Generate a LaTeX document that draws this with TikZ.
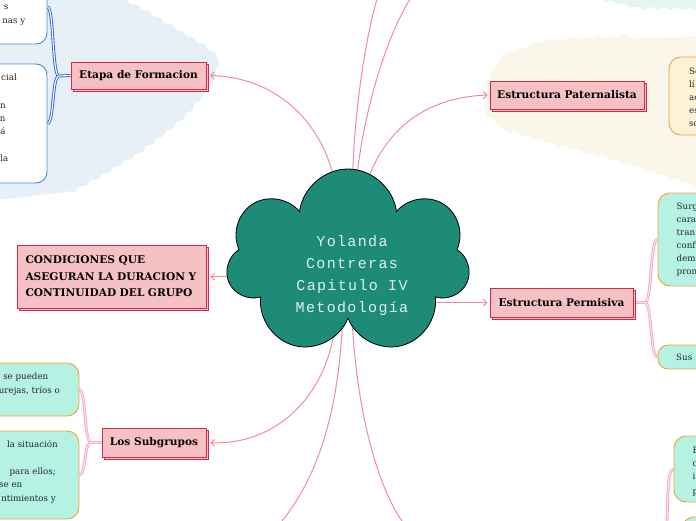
\documentclass[tikz,border=0pt]{standalone}
\usepackage{fontspec}
\setmainfont{DejaVu Serif}
\newfontfamily\monof[LetterSpace=9]{Liberation Mono}
\usetikzlibrary{shapes.symbols,shadows,arrows.meta,decorations.pathmorphing}
\definecolor{pinkfill}{HTML}{F5C1C4}
\definecolor{crim}{HTML}{D22A48}
\definecolor{conn}{HTML}{F28C9C}
\definecolor{tealc}{HTML}{1E8A78}
\definecolor{mint}{HTML}{B6F2E1}
\definecolor{orng}{HTML}{F2A23C}
\definecolor{peach}{HTML}{FFF1D6}
\definecolor{lblue}{HTML}{3A8EDB}
\definecolor{bluebr}{HTML}{2D62F0}
\definecolor{bgblue}{HTML}{E8F0F7}
\definecolor{bgcream}{HTML}{FBF6EA}
\definecolor{bgmint}{HTML}{E3F6EF}
\definecolor{cloudtxt}{HTML}{DDF2EA}
\definecolor{brpink}{HTML}{F6A7B6}
\pgfdeclarelayer{back}
\pgfdeclarelayer{links}
\pgfsetlayers{back,links,main}
\tikzset{
  topic/.style={draw=crim, fill=pinkfill, line width=1pt, inner sep=0pt,
    font=\fontsize{10.6}{16.5}\selectfont\bfseries,
    copy shadow={shadow xshift=2.5pt, shadow yshift=-2.5pt}},
  leafb/.style={draw=lblue, fill=white, rounded corners=11pt, line width=0.9pt, inner sep=0pt},
  leafm/.style={draw=orng, fill=mint, rounded corners=12pt, line width=0.9pt, inner sep=0pt},
  leafp/.style={draw=orng, fill=peach, rounded corners=12pt, line width=0.9pt, inner sep=0pt},
  frag/.style={font=\fontsize{8.7}{13}\selectfont, inner sep=0pt, text=black!85},
  link/.style={draw=conn, line width=1pt},
  arr/.style={link, -{Straight Barb[length=3.5pt,width=7pt]}},
  bluebranch/.style={draw=bluebr, double=white, double distance=1.1pt, line width=0.9pt},
  pinkbranch/.style={draw=brpink, double=white!70!brpink, double distance=1.1pt, line width=0.85pt},
  wavy/.style={decoration={snake, amplitude=1.3pt, segment length=13pt}}
}
\begin{document}
\begin{tikzpicture}[x=1pt, y=-1pt]
\useasboundingbox (0,0) rectangle (696,520);
% backgrounds
\begin{pgfonlayer}{back}
\fill[bgblue] (-2,-2) -- (122,-2) decorate[wavy]{-- (145,10) -- (175,28) -- (200,43) -- (217,57) -- (210,83) -- (187,110) -- (160,133) -- (133,153) -- (100,173) -- (66,192)} -- (-2,200) -- cycle;
\fill[bgcream] (486,113) decorate[wavy]{-- (486,86) -- (503,57) -- (537,45) -- (570,41) -- (640,38)} -- (700,36) -- (700,187) decorate[wavy]{-- (640,168) -- (570,148) -- (537,140) -- (503,130) -- (486,113)} -- cycle;
\fill[bgmint] (598,-2) -- (700,-2) -- (700,9) decorate[wavy]{-- (640,8) -- (598,-2)} -- cycle;
\end{pgfonlayer}
% central cloud
\node[cloud, cloud puffs=7, cloud puff arc=165, cloud ignores aspect, shape border rotate=10,
  minimum width=244pt, minimum height=186pt, fill=tealc, draw=black, line width=0.8pt] (cl) at (348,262) {};
\node[text=cloudtxt, font=\monof\fontsize{15}{22}\selectfont, align=center, inner sep=0pt] (ct) at (352,276) {Yolanda\\Contreras\\Capitulo IV\\Metodología};
% topics
\node[topic, minimum width=135pt, minimum height=27pt] (etapa) at (138.5,75.5) {Etapa de Formacion};
\node[topic, minimum width=189pt, minimum height=63pt, text width=172pt, align=left] (cond) at (111.5,276.5) {CONDICIONES QUE\\ASEGURAN LA DURACION Y\\CONTINUIDAD DEL GRUPO};
\node[topic, minimum width=154pt, minimum height=28pt] (pat) at (567,95) {Estructura Paternalista};
\node[topic, minimum width=143pt, minimum height=29pt] (perm) at (561.5,302.5) {Estructura Permisiva};
\node[topic, minimum width=104pt, minimum height=29pt] (sub) at (154,442.5) {Los Subgrupos};
% leaves
\node[leafb, minimum width=77pt, minimum height=74pt] (la) at (8.5,7) {};
\node[leafb, minimum width=77pt, minimum height=119pt] (lb) at (8.5,123.5) {};
\node[leafm, minimum width=109pt, minimum height=53pt] (lc) at (24.5,389.5) {};
\node[leafm, minimum width=109pt, minimum height=88pt] (ld) at (24.5,475) {};
\node[leafp, minimum width=61pt, minimum height=78pt] (le) at (699.5,96) {};
\node[leafm, minimum width=72pt, minimum height=93pt] (lf) at (694,239.5) {};
\node[leafm, minimum width=72pt, minimum height=24pt, rounded corners=10pt] (lg) at (694,357) {};
\node[leafm, minimum width=56pt, minimum height=66pt] (lh) at (702,469) {};
\node[leafm, minimum width=48pt, minimum height=43pt] (li) at (706,538.5) {};
% leaf text fragments
\node[frag, anchor=base east] (ta1) at (8.5,9) {s};
\node[frag, anchor=base east] (ta2) at (25.5,23) {nas y};
\node[frag, anchor=base east] (tb1) at (17,80.5) {cial};
\node[frag, anchor=base east] (tb2) at (6,108) {n};
\node[frag, anchor=base east] (tb3) at (5.8,121) {n};
\node[frag, anchor=base east] (tb4) at (5.8,134.5) {á};
\node[frag, anchor=base east] (tb5) at (8.5,161) {la};
\node[frag, anchor=base east] (tc1) at (48.5,379.5) {se pueden};
\node[frag, anchor=base east] (tc2) at (60,393.5) {urejas, tríos o};
\node[frag, anchor=base east] (td1) at (58,447) {la situación};
\node[frag, anchor=base east] (td2) at (56,474.5) {para ellos;};
\node[frag, anchor=base east] (td3) at (22.5,487.5) {se en};
\node[frag, anchor=base east] (td4) at (56,501.5) {ntimientos y};
\node[frag, anchor=base west] (te1) at (689,74.5) {Se};
\node[frag, anchor=base west] (te2) at (689,87.5) {lí};
\node[frag, anchor=base west] (te3) at (689,100.5) {ac};
\node[frag, anchor=base west] (te4) at (689,113) {es};
\node[frag, anchor=base west] (te5) at (689,126) {so};
\node[frag, anchor=base west] (tf1) at (676.5,209) {Surg};
\node[frag, anchor=base west] (tf2) at (676.5,222) {cara};
\node[frag, anchor=base west] (tf3) at (676.5,235) {tran};
\node[frag, anchor=base west] (tf4) at (676.5,248) {conf};
\node[frag, anchor=base west] (tf5) at (676.5,261.5) {dem};
\node[frag, anchor=base west] (tf6) at (676.5,274.5) {pron};
\node[frag, anchor=base west] (tg1) at (676,360.5) {Sus};
\node[frag, anchor=base west] (th1) at (692.5,453) {E};
\node[frag, anchor=base west] (th2) at (692.5,466) {c};
\node[frag, anchor=base west] (th3) at (692.5,479) {i};
\node[frag, anchor=base west] (th4) at (692.5,494) {p};
% connectors
\coordinate (up1) at (377,-1);
\coordinate (up2) at (410,-1);
\coordinate (dn1) at (282,521);
\coordinate (dn2) at (402,521);
\coordinate (eb) at (59,76);
\coordinate (sb) at (91,442.5);
\coordinate (pb) at (645,302.5);
\coordinate (hb) at (667,522);
\begin{pgfonlayer}{links}
\draw[arr, shorten >=3.5pt] (cl.100) .. controls (318,120) and (275,77) .. (etapa.east);
\draw[link] (cl.87) .. controls (355,110) and (365,40) .. (up1);
\draw[link] (cl.84) .. controls (365,110) and (385,40) .. (up2);
\draw[arr, shorten >=2pt] (cl.76) .. controls (390,125) and (430,97) .. (pat.west);
\draw[arr, shorten >=4pt] (cl.center |- cond.east) -- (cond.east);
\draw[arr, shorten >=2pt] (cl.center |- perm.west) -- (perm.west);
\draw[arr, shorten >=4pt] (cl.259) .. controls (318,410) and (265,445) .. (sub.east);
\draw[link] (cl.265) .. controls (337,420) and (315,480) .. (dn1);
\draw[link] (cl.274) .. controls (358,420) and (380,490) .. (dn2);
\draw[bluebranch] (etapa.west) -- (eb) .. controls (52,76) and (54,7) .. (la.east);
\draw[bluebranch] (eb) .. controls (52,76) and (54,123.5) .. (lb.east);
\draw[pinkbranch] (sub.west) -- (sb) .. controls (84,442.5) and (86,389.5) .. (lc.east);
\draw[pinkbranch] (sb) .. controls (84,442.5) and (86,475) .. (ld.east);
\draw[pinkbranch] (perm.east) -- (pb) .. controls (652,302.5) and (650,239.5) .. (lf.west);
\draw[pinkbranch] (pb) .. controls (652,302.5) and (650,357) .. (lg.west);
\draw[pinkbranch] (lh.west) .. controls (668,469) and (668,490) .. (hb);
\end{pgfonlayer}
\end{tikzpicture}
\end{document}
